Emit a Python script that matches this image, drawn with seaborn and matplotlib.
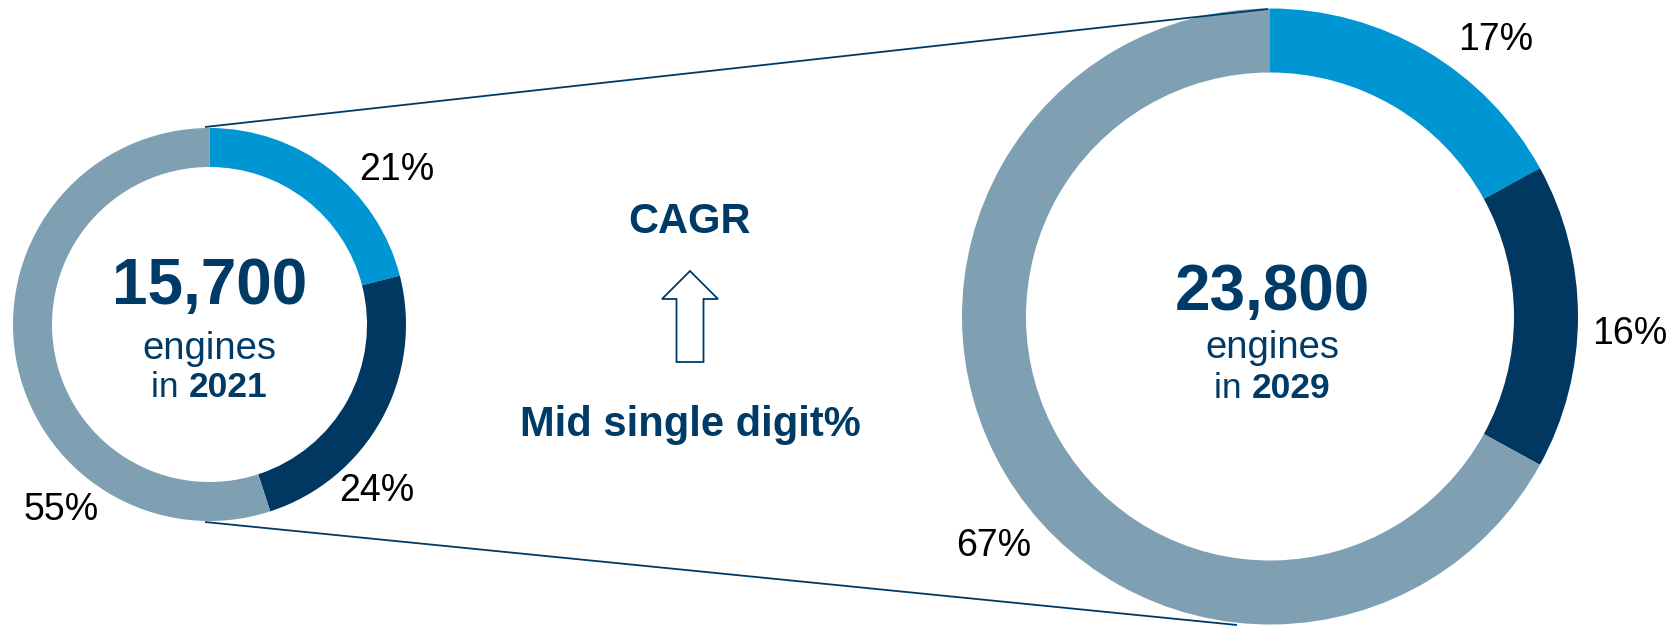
import matplotlib
matplotlib.use("Agg")
import matplotlib.pyplot as plt
from matplotlib.patches import Polygon
import seaborn as sns

# Engine fleet split by segment, 2021 vs 2029
segments = ["Segment A", "Segment B", "Other"]
shares_2021 = [21, 24, 55]
shares_2029 = [17, 16, 67]
fleet_totals = [15700, 23800]
fleet_years = [2021, 2029]
cagr_title = "CAGR"
cagr_text = "Mid single digit%"

sns.set_theme(style="white")
plt.rcParams["font.family"] = ["Liberation Sans", "DejaVu Sans"]

palette = ["#0095D3", "#003862", "#7F9FB2"]
navy = "#003A66"

W, H = 1671, 628
fig = plt.figure(figsize=(W / 100, H / 100), dpi=100)
ax = fig.add_axes([0, 0, 1, 1])
ax.set_xlim(0, W)
ax.set_ylim(0, H)
ax.set_aspect("equal")
ax.axis("off")

# donut geometry in pixel space (y up)
donuts = [
    dict(shares=shares_2021, cx=209.5, cy=H - 324.5, r=196.5, w=39),
    dict(shares=shares_2029, cx=1270, cy=H - 316.5, r=308, w=64),
]

# zoom lines joining the two donuts
ax.plot([205, 1268], [H - 127, H - 9], color=navy, lw=1.3, zorder=4,
        solid_capstyle="butt")
ax.plot([205, 1237], [H - 522, H - 625], color=navy, lw=1.3, zorder=1,
        solid_capstyle="butt")

for d in donuts:
    wedges, _ = ax.pie(d["shares"], colors=palette, startangle=90,
                       counterclock=False, center=(d["cx"], d["cy"]),
                       radius=d["r"], frame=True,
                       wedgeprops=dict(width=d["w"], edgecolor="none",
                                       linewidth=0))
    for wdg in wedges:
        wdg.set_zorder(2)

ax.set_xlim(0, W)
ax.set_ylim(0, H)
ax.axis("off")

# percentage labels
label_pos = [
    [(397, 170), (377, 491), (61, 510)],
    [(1496, 40), (1630, 334), (994, 546)],
]
for shares, pos in zip([shares_2021, shares_2029], label_pos):
    for v, (x, y) in zip(shares, pos):
        ax.text(x, H - y, f"{v}%", fontsize=27, color="black",
                ha="center", va="center")

renderer = fig.canvas.get_renderer()

def mixed_line(x, y, parts, size):
    """Draw a centred line made of (text, weight) pieces."""
    artists = []
    widths = []
    for txt, wt in parts:
        t = ax.text(0, y, txt, fontsize=size, fontweight=wt, color=navy,
                    ha="left", va="baseline")
        bb = t.get_window_extent(renderer=renderer)
        artists.append(t)
        widths.append(bb.width)
    total = sum(widths)
    cur = x - total / 2
    for t, wd in zip(artists, widths):
        t.set_x(cur)
        cur += wd

centres = [(209.5, 304, 359, 397), (1272, 310, 358, 398)]
for total, year, (cx, yb1, yb2, yb3) in zip(fleet_totals, fleet_years, centres):
    ax.text(cx, H - yb1, f"{total:,}", fontsize=46, fontweight="bold",
            color=navy, ha="center", va="baseline")
    ax.text(cx, H - yb2, "engines", fontsize=27.5, color=navy,
            ha="center", va="baseline")
    mixed_line(cx, H - yb3, [("in ", "normal"), (str(year), "bold")], 25.5)

# CAGR block in the middle
ax.text(689, H - 233, cagr_title, fontsize=30, fontweight="bold",
        color=navy, ha="center", va="baseline")
ax.text(690, H - 436, cagr_text, fontsize=30, fontweight="bold",
        color=navy, ha="center", va="baseline")

ax_c = 690
arrow = Polygon([
    (ax_c, H - 271), (ax_c + 28, H - 299), (ax_c + 13.5, H - 299),
    (ax_c + 13.5, H - 362), (ax_c - 13.5, H - 362), (ax_c - 13.5, H - 299),
    (ax_c - 28, H - 299)], closed=True, facecolor="white",
    edgecolor=navy, lw=1.3, zorder=3)
ax.add_patch(arrow)

fig.savefig("out.png", dpi=100, facecolor="white")
